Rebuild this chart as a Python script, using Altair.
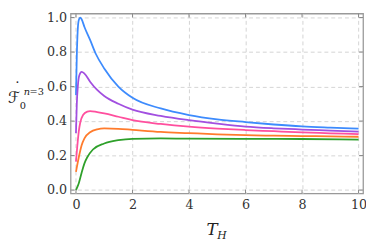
import altair as alt
import pandas as pd

# ---- data ----
T_blue = [0.0, 0.03, 0.06, 0.1, 0.15, 0.2, 0.3, 0.5, 0.7, 1.0, 1.5, 2.0, 3.0, 4.0, 5.0, 6.0, 7.0, 8.0, 9.0, 10.0]
F_blue = [0.55, 0.78, 0.92, 0.985, 1.0, 0.99, 0.945, 0.87, 0.79, 0.705, 0.60, 0.535, 0.473, 0.435, 0.41, 0.394, 0.38, 0.369, 0.362, 0.356]

T_purple = [0.0, 0.03, 0.07, 0.12, 0.2, 0.3, 0.5, 0.75, 1.0, 1.5, 2.0, 3.0, 4.0, 5.0, 6.0, 7.0, 8.0, 9.0, 10.0]
F_purple = [0.33, 0.5, 0.61, 0.665, 0.685, 0.675, 0.628, 0.58, 0.545, 0.5, 0.466, 0.43, 0.405, 0.385, 0.368, 0.358, 0.351, 0.345, 0.339]

T_pink = [0.0, 0.05, 0.1, 0.15, 0.25, 0.4, 0.5, 0.75, 1.0, 1.5, 2.0, 3.0, 4.0, 5.0, 6.0, 7.0, 8.0, 9.0, 10.0]
F_pink = [0.165, 0.26, 0.34, 0.39, 0.435, 0.455, 0.458, 0.452, 0.445, 0.425, 0.405, 0.383, 0.367, 0.356, 0.348, 0.341, 0.334, 0.329, 0.324]

T_orange = [0.0, 0.1, 0.2, 0.3, 0.5, 0.75, 1.0, 1.5, 2.0, 3.0, 4.0, 5.0, 6.0, 7.0, 8.0, 9.0, 10.0]
F_orange = [0.105, 0.19, 0.26, 0.30, 0.335, 0.352, 0.357, 0.355, 0.349, 0.337, 0.33, 0.323, 0.318, 0.315, 0.313, 0.311, 0.309]

T_green = [0.0, 0.1, 0.2, 0.3, 0.4, 0.6, 1.0, 1.5, 2.0, 3.0, 4.0, 6.0, 8.0, 10.0]
F_green = [0.0, 0.04, 0.1, 0.155, 0.19, 0.235, 0.27, 0.289, 0.297, 0.299, 0.298, 0.297, 0.296, 0.293]

series_names = ["s1", "s2", "s3", "s4", "s5"]
series_colors = ["#3d8bfd", "#a24fe0", "#ff4f9e", "#ff7b2c", "#2ea02a"]

x_ticks = [0, 2, 4, 6, 8, 10]
y_ticks = [0.0, 0.2, 0.4, 0.6, 0.8, 1.0]

W, H = 299, 184
FONT = "DejaVu Serif"

rows = []
for name, ts, fs in zip(series_names,
                        [T_blue, T_purple, T_pink, T_orange, T_green],
                        [F_blue, F_purple, F_pink, F_orange, F_green]):
    for t, f in zip(ts, fs):
        rows.append({"T": t, "F": f, "s": name})
df = pd.DataFrame(rows)

xscale = alt.Scale(domain=[-0.19, 10.16], nice=False, zero=False)
yscale = alt.Scale(domain=[-0.02, 1.023], nice=False, zero=False)

xaxis = alt.Axis(values=x_ticks, title=None, labelPadding=5, labelFlush=False)
yaxis = alt.Axis(values=y_ticks, format=".1f", title=None, labelPadding=4, labelFlush=False)

lines = alt.Chart(df).mark_line(strokeWidth=1.8, interpolate="monotone").encode(
    x=alt.X("T:Q", scale=xscale, axis=xaxis),
    y=alt.Y("F:Q", scale=yscale, axis=yaxis),
    color=alt.Color("s:N", scale=alt.Scale(domain=series_names, range=series_colors), legend=None),
    order=alt.Order("T:Q"),
)

xt = pd.DataFrame({"T": x_ticks})
yt = pd.DataFrame({"F": y_ticks})
tick_style = dict(color="#888888", strokeWidth=1)
ticks_bottom = alt.Chart(xt).mark_rule(**tick_style).encode(
    x=alt.X("T:Q", scale=xscale, axis=xaxis), y=alt.value(H), y2=alt.value(H - 4))
ticks_top = alt.Chart(xt).mark_rule(**tick_style).encode(
    x=alt.X("T:Q", scale=xscale, axis=xaxis), y=alt.value(0), y2=alt.value(4))
ticks_left = alt.Chart(yt).mark_rule(**tick_style).encode(
    y=alt.Y("F:Q", scale=yscale, axis=yaxis), x=alt.value(0), x2=alt.value(4))
ticks_right = alt.Chart(yt).mark_rule(**tick_style).encode(
    y=alt.Y("F:Q", scale=yscale, axis=yaxis), x=alt.value(W), x2=alt.value(W - 4))

def txt(s, x, y, size, italic=False, align="left", font=FONT):
    return alt.Chart(pd.DataFrame({"t": [s]})).mark_text(
        font=font, fontSize=size, fontStyle="italic" if italic else "normal",
        align=align, baseline="alphabetic", color="#222222").encode(
        x=alt.value(x), y=alt.value(y), text="t:N")

title_parts = [
    txt("\u2131", -64, 91, 16, font="DejaVu Sans"),
    txt("\u02d9", -58, 81, 15),
    txt("0", -52, 98, 10),
    txt("n", -48, 83, 10, italic=True),
    txt("=3", -42, 83, 10),
    txt("T", 139, 226, 17, italic=True),
    txt("H", 150, 230, 11, italic=True),
]

chart = alt.layer(lines, ticks_bottom, ticks_top, ticks_left, ticks_right, *title_parts).properties(
    width=W, height=H,
    autosize=alt.AutoSizeParams(type="none"),
    padding={"left": 64, "top": 3, "right": 3, "bottom": 52},
).configure(background="white").configure_view(
    stroke="#999999", strokeWidth=1.3
).configure_axis(
    grid=True, gridDash=[4, 3], gridColor="#d4d4d4", labelFont=FONT,
    labelFontSize=13, labelColor="#333333", tickSize=0, domain=False,
)

chart.save("out.html", embed_options={"renderer": "svg", "actions": False})
